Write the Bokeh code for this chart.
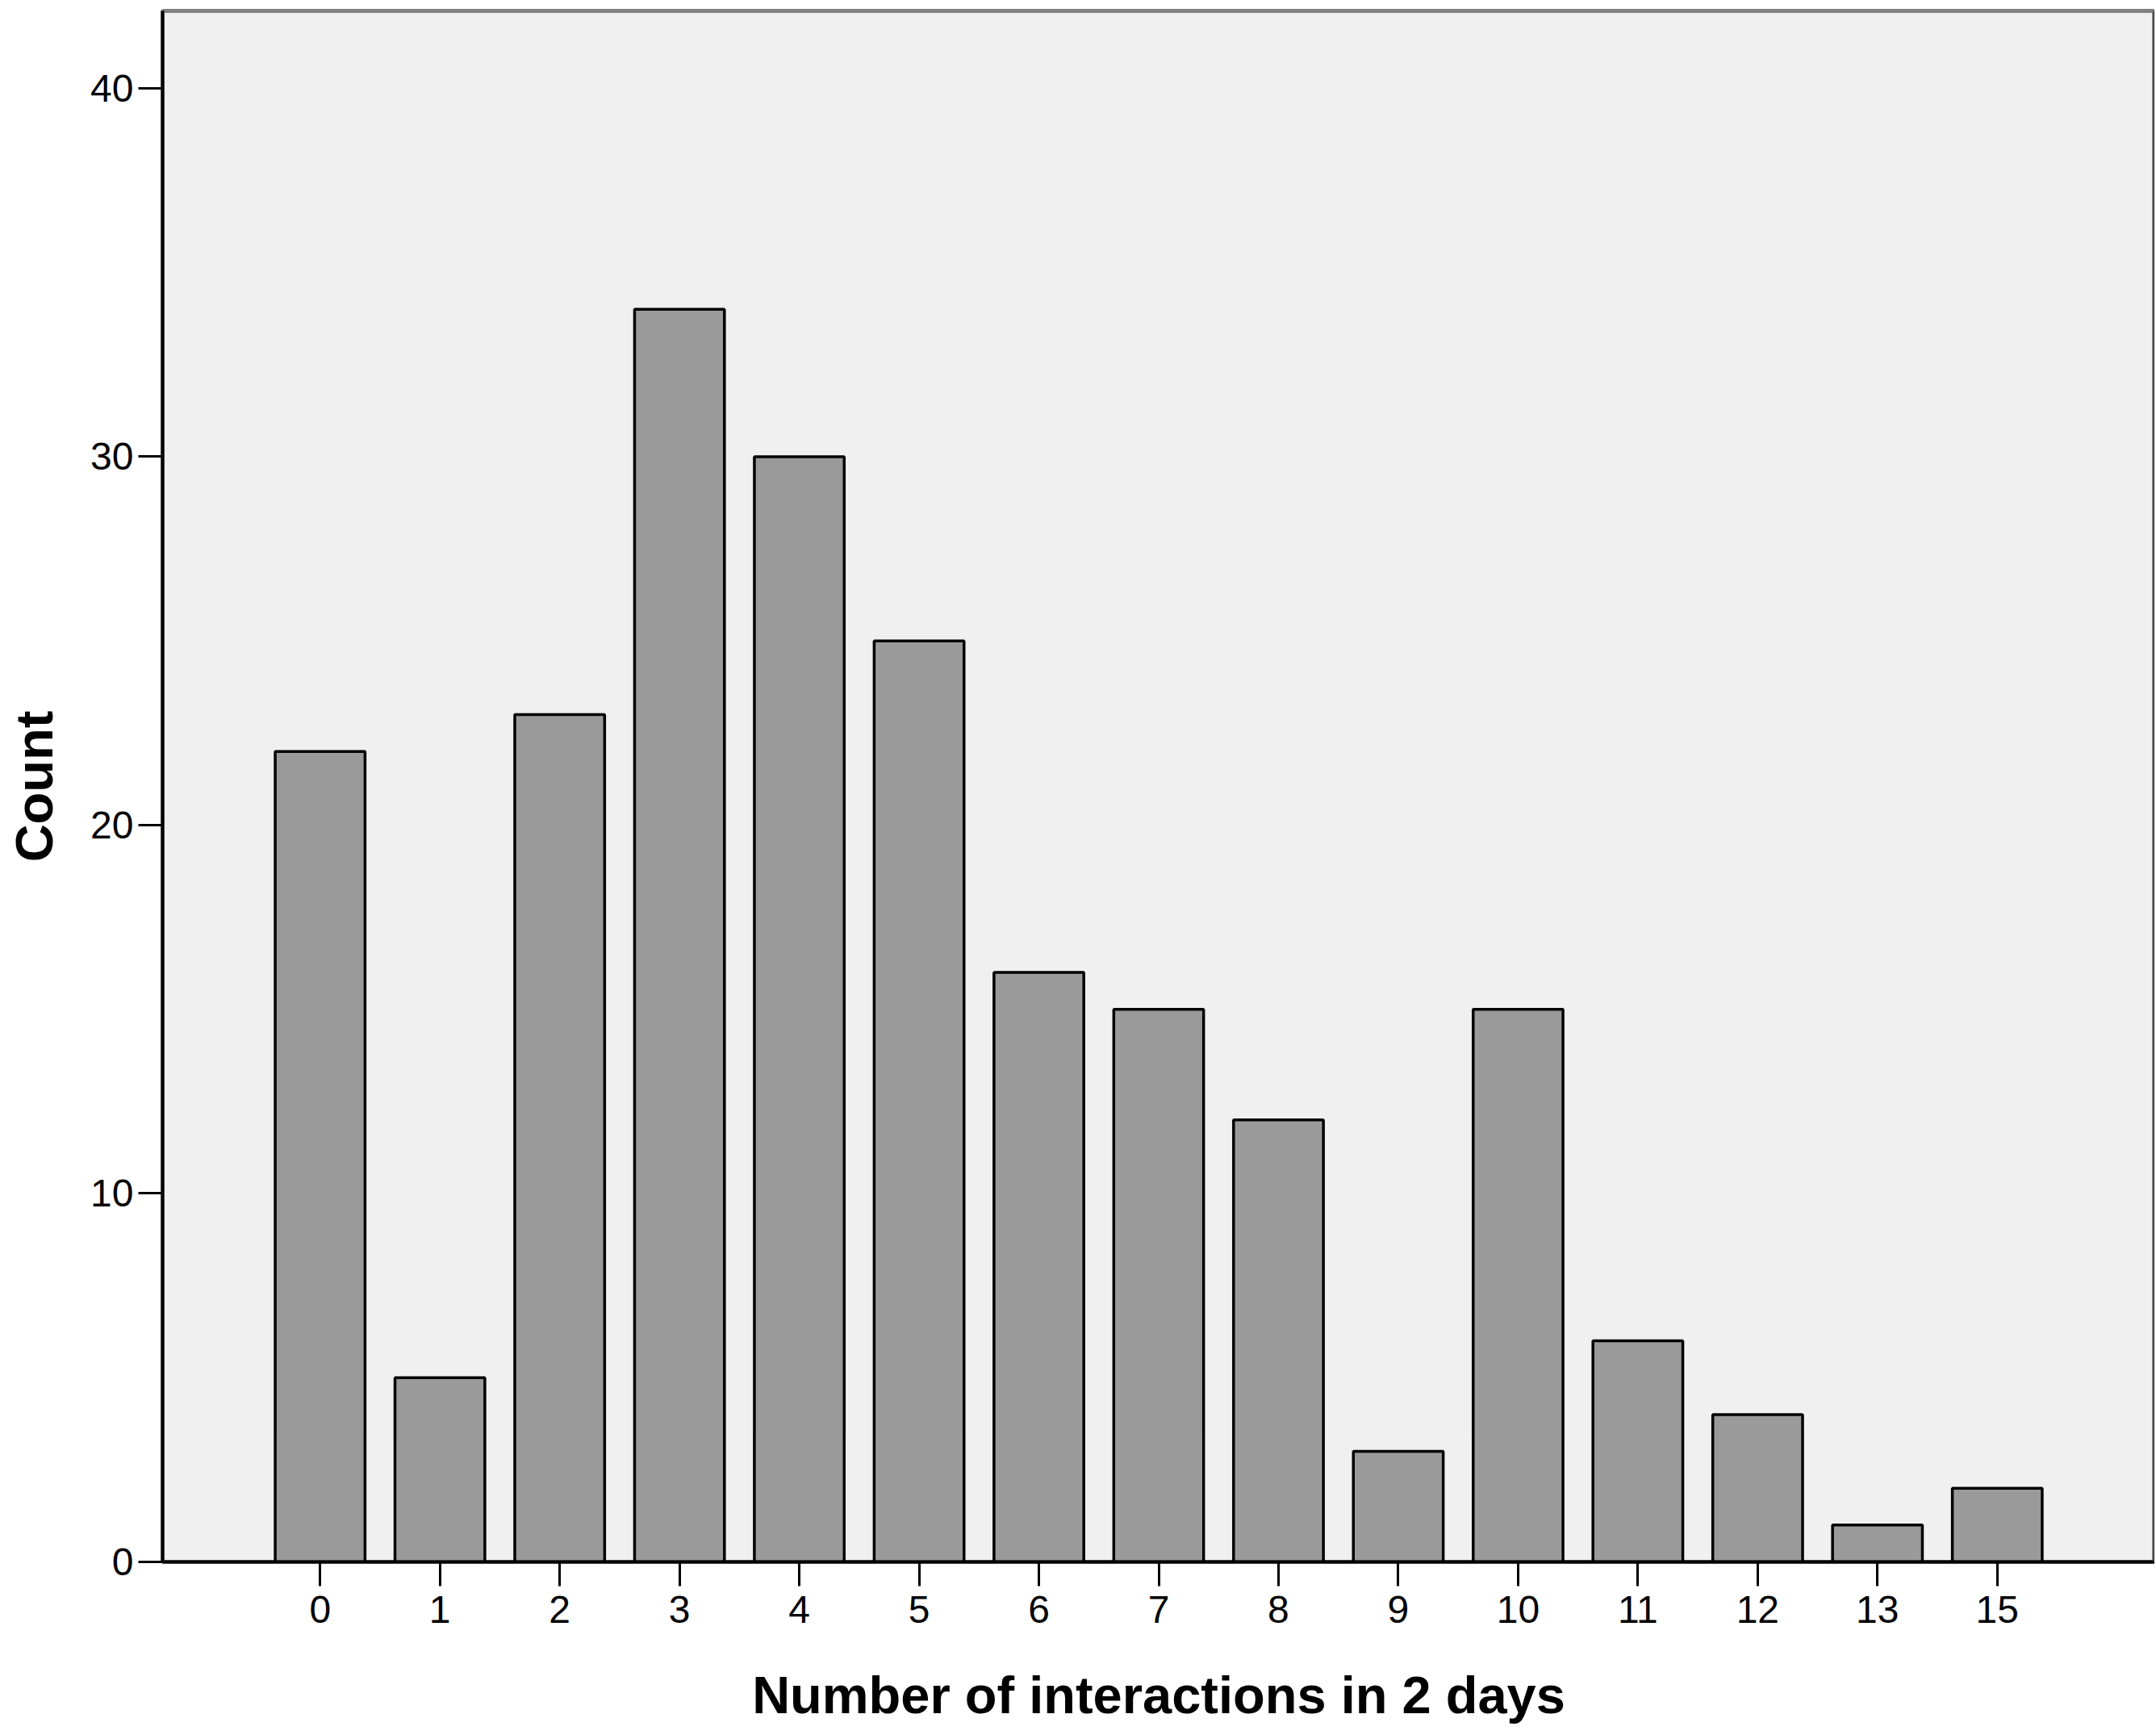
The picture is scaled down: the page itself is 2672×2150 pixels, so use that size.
from bokeh.plotting import figure
from bokeh.models import Range1d, FactorRange, LinearAxis, FixedTicker
from bokeh.embed import file_html
from bokeh.resources import INLINE

categories = ["0", "1", "2", "3", "4", "5", "6", "7", "8", "9", "10", "11", "12", "13", "15"]
counts = [22, 5, 23, 34, 30, 25, 16, 15, 12, 3, 15, 6, 4, 1, 2]
y_ticks = [0, 10, 20, 30, 40]

p = figure(
    width=2670, height=2148,
    x_range=FactorRange(factors=categories, range_padding=0.815, range_padding_units="absolute"),
    y_range=Range1d(0, 42.1),
    output_backend="svg", toolbar_location=None,
    min_border_left=201, min_border_top=13, min_border_bottom=213, min_border_right=0,
)
p.background_fill_color = "#f0f0f0"
p.border_fill_color = "white"
p.outline_line_color = "#808080"
p.outline_line_width = 5
p.grid.visible = False

p.vbar(x=categories, top=counts, width=0.75, fill_color="#9a9a9a",
       line_color="black", line_width=3.5)

font = "Liberation Sans"
for ax in (p.xaxis[0], p.yaxis[0]):
    ax.axis_line_color = "black"
    ax.axis_line_width = 4
    ax.major_tick_line_color = "black"
    ax.major_tick_line_width = 3
    ax.major_tick_out = 30
    ax.major_tick_in = 0
    ax.minor_tick_line_color = None
    ax.major_label_text_font = font
    ax.major_label_text_font_size = "48px"
    ax.major_label_text_color = "black"
    ax.axis_label_text_font = font
    ax.axis_label_text_font_style = "bold"
    ax.axis_label_text_font_size = "65px"
    ax.axis_label_text_color = "black"

p.xaxis.axis_label = "Number of interactions in 2 days"
p.xaxis.major_label_standoff = 12
p.xaxis.axis_label_standoff = 50

p.yaxis.axis_label = "Count"
p.yaxis.ticker = FixedTicker(ticks=y_ticks)
p.yaxis.major_label_standoff = 6
p.yaxis.axis_label_standoff = 30

right = LinearAxis(ticker=FixedTicker(ticks=[]), axis_line_color="#333333", axis_line_width=4,
                   major_tick_line_color=None, minor_tick_line_color=None,
                   major_label_text_font_size="0px")
p.add_layout(right, "right")

open("out.html", "w").write(file_html(p, INLINE))
